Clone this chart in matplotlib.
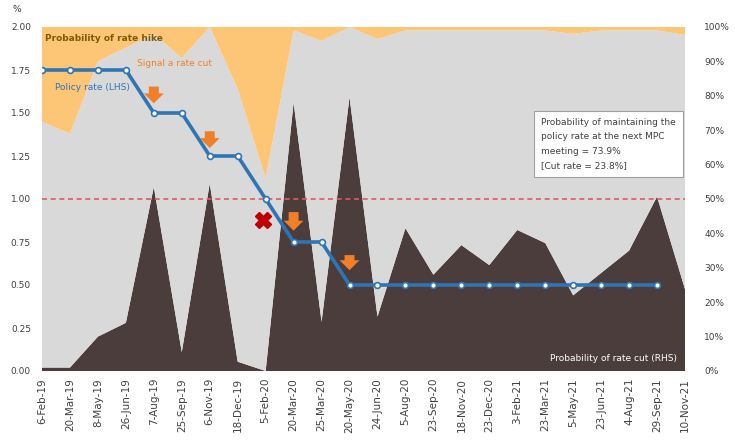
import matplotlib
matplotlib.use("Agg")
import matplotlib.pyplot as plt
import numpy as np

dates = ["6-Feb-19", "20-Mar-19", "8-May-19", "26-Jun-19", "7-Aug-19", "25-Sep-19",
         "6-Nov-19", "18-Dec-19", "5-Feb-20", "20-Mar-20", "25-Mar-20", "20-May-20",
         "24-Jun-20", "5-Aug-20", "23-Sep-20", "18-Nov-20", "23-Dec-20", "3-Feb-21",
         "23-Mar-21", "5-May-21", "23-Jun-21", "4-Aug-21", "29-Sep-21", "10-Nov-21"]

# probability of rate cut (%), RHS
prob_cut = [1, 1, 10, 14, 53.5, 5.5, 54.5, 2.7, 0, 78, 14.3, 79.6,
            15.8, 41.5, 28, 36.6, 30.8, 41, 37.2, 22, 28.5, 35, 50.7, 23.8]
# probability of rate hike (%), RHS
prob_hike = [27.5, 31, 10, 6, 2, 9, 0, 18, 44, 1, 4, 0,
             3.5, 1, 1, 1, 1, 1, 1, 2, 1, 1, 1, 2.3]
# policy rate (%), LHS
policy_rate = [1.75, 1.75, 1.75, 1.75, 1.50, 1.50, 1.25, 1.25, 1.00, 0.75, 0.75, 0.50,
               0.50, 0.50, 0.50, 0.50, 0.50, 0.50, 0.50, 0.50, 0.50, 0.50, 0.50, np.nan]

# rate-cut signals (index, arrow tail, arrow tip) and the "no cut" mark
signal_idx = [4, 6, 9, 11]
signal_top = [1.67, 1.41, 0.94, 0.69]
signal_tip = [1.54, 1.28, 0.80, 0.57]
nocut_idx = 7.9
nocut_y = 0.88

left_ticks = [0, 0.25, 0.5, 0.75, 1.0, 1.25, 1.5, 1.75, 2.0]
right_ticks = list(range(0, 101, 10))

C_CUT = "#4c3d3d"
C_HOLD = "#d9d9d9"
C_HIKE = "#fdc576"
C_LINE = "#2e75b6"
C_ORANGE = "#f07f2a"
C_TXT = "#404040"

plt.rcParams['font.family'] = ['DejaVu Sans']

fig = plt.figure(figsize=(7.35, 4.46), dpi=100)
ax = fig.add_axes([42/735, 1-371/446, (685-42)/735, (371-27)/446])
ax2 = ax.twinx()

x = np.arange(len(dates))
cut = np.array(prob_cut)
hike = np.array(prob_hike)
hold = 100 - cut - hike
ax2.stackplot(x, cut, hold, hike, colors=[C_CUT, C_HOLD, C_HIKE], linewidth=0)
ax2.set_ylim(0, 100)
ax2.set_yticks(right_ticks)
ax2.set_yticklabels([f"{v}%" for v in right_ticks], fontsize=6.5, color=C_TXT)

ax.set_zorder(ax2.get_zorder() + 1)
ax.patch.set_visible(False)

ax.axhline(1.0, color="#e05a5a", lw=1.2, ls=(0, (3, 2.2)))
ax.plot(x, policy_rate, color=C_LINE, lw=2.6, marker="o", ms=4.2,
        mfc="white", mec=C_LINE, mew=1.2)

for i, t, b in zip(signal_idx, signal_top, signal_tip):
    ax.annotate("", xy=(i, b), xytext=(i, t),
                arrowprops=dict(arrowstyle="simple,head_length=0.55,head_width=1.1,tail_width=0.55",
                                color=C_ORANGE, lw=0, mutation_scale=13))
ax.plot([nocut_idx], [nocut_y], marker="X", ms=11, color="#c00000", mec="#c00000")

ax.set_xlim(0, len(dates) - 1)
ax.set_ylim(0, 2.0)
ax.set_yticks(left_ticks)
ax.set_yticklabels([f"{v:.2f}" for v in left_ticks], fontsize=6.5, color=C_TXT)
ax.set_xticks(x)
ax.set_xticklabels(dates, rotation=90, fontsize=7.5, color=C_TXT)

for a in (ax, ax2):
    for s in a.spines.values():
        s.set_visible(False)
    a.tick_params(length=0)
ax.tick_params(axis="y", pad=8)
ax.tick_params(axis="x", pad=5)
ax2.tick_params(axis="y", pad=14)

ax.text(0.1, 1.935, "Probability of rate hike", fontsize=6.5, color="#7f5a00",
        va="center", ha="left", fontweight="semibold")
ax.text(3.4, 1.79, "Signal a rate cut", fontsize=6.5, color=C_ORANGE, va="center", ha="left")
ax.text(0.45, 1.65, "Policy rate (LHS)", fontsize=6.5, color=C_LINE, va="center", ha="left")
ax.text(22.7, 0.075, "Probability of rate cut (RHS)", fontsize=6.5, color="white",
        va="center", ha="right")
ax.text(17.85, 1.47,
        "Probability of maintaining the\npolicy rate at the next MPC\nmeeting = 73.9%\n[Cut rate = 23.8%]",
        fontsize=6.5, color=C_TXT, va="top", ha="left", linespacing=1.75,
        bbox=dict(boxstyle="square,pad=0.8", fc="white", ec="#a0a0a0", lw=0.8))

fig.text(12/735, 1-10/446, "%", fontsize=6.5, color=C_TXT, va="center")

fig.savefig("out.png", dpi=100)
